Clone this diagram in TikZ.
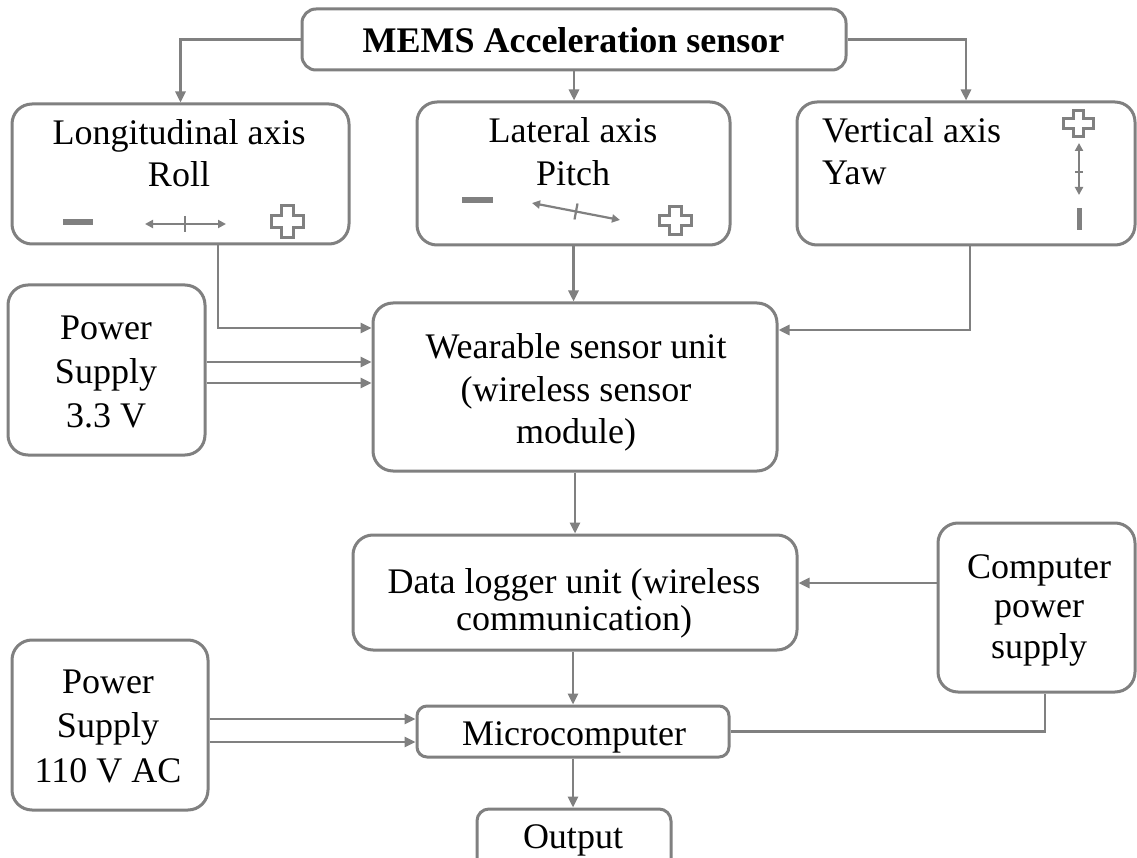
\documentclass[tikz,border=0pt]{standalone}
\usepackage{fontspec}
\setmainfont{Liberation Serif}
\usetikzlibrary{arrows.meta}
\definecolor{lg}{RGB}{128,128,128}
\begin{document}
\begin{tikzpicture}[x=1pt,y=-1pt,
  box/.style={draw=lg,line width=3pt,rounded corners=20pt,inner sep=0pt},
  txt/.style={font=\fontsize{36}{43}\selectfont,inner sep=0pt,anchor=base},
  conn/.style={draw=lg,line width=2.6pt},
  arr/.style={conn,-{Triangle[length=11pt,width=10pt]}},
  icon/.style={draw=lg,line width=2.2pt},
  iarr/.style={icon,{Triangle[length=8pt,width=8pt]}-{Triangle[length=8pt,width=8pt]}},
  plusicon/.style={draw=lg,line width=3pt}
]
\useasboundingbox (0,0) rectangle (1137,858);
\fill[white] (0,0) rectangle (1137,858);

% boxes
\node[box,rounded corners=14pt,minimum width=544pt,minimum height=61pt] (mems) at (574,39.5) {};
\node[box,minimum width=337pt,minimum height=140pt] (lon) at (180.5,174) {};
\node[box,minimum width=313pt,minimum height=143pt] (lat) at (573.5,173.5) {};
\node[box,minimum width=338pt,minimum height=143pt] (ver) at (966,173.5) {};
\node[box,minimum width=197pt,minimum height=170pt] (ps33) at (106.5,370) {};
\node[box,minimum width=404pt,minimum height=168pt] (wear) at (575,387) {};
\node[box,minimum width=444pt,minimum height=115pt] (dlog) at (575,592.5) {};
\node[box,minimum width=197pt,minimum height=169pt] (cps) at (1036.5,607.5) {};
\node[box,rounded corners=10pt,minimum width=312pt,minimum height=51pt] (mc) at (573,731.5) {};
\node[box,minimum width=196pt,minimum height=170pt] (ps110) at (110,725) {};
\node[box,rounded corners=12pt,minimum width=194pt,minimum height=71pt] (out) at (574,844.5) {};

% texts
\node[txt,font=\fontsize{36}{43}\selectfont\bfseries] (memsT) at (573.5,53) {MEMS Acceleration sensor};
\node[txt] (lonT1) at (179,145) {Longitudinal axis};
\node[txt] (lonT2) at (179,187) {Roll};
\node[txt] (latT1) at (573,143) {Lateral axis};
\node[txt] (latT2) at (573,186) {Pitch};
\node[txt,anchor=base west] (verT1) at (822,143) {Vertical axis};
\node[txt,anchor=base west] (verT2) at (822,185) {Yaw};
\node[txt] (psaT1) at (106,340) {Power};
\node[txt] (psaT2) at (106,383) {Supply};
\node[txt] (psaT3) at (106,427) {3.3 V};
\node[txt] (wearT1) at (576,358) {Wearable sensor unit};
\node[txt] (wearT2) at (576,401) {(wireless sensor};
\node[txt] (wearT3) at (576,443) {module)};
\node[txt] (dlogT1) at (574,593) {Data logger unit (wireless};
\node[txt] (dlogT2) at (574,630) {communication)};
\node[txt] (cpsT1) at (1039,578) {Computer};
\node[txt] (cpsT2) at (1039,617) {power};
\node[txt] (cpsT3) at (1039,658) {supply};
\node[txt] (mcT) at (574,745) {Microcomputer};
\node[txt] (psbT1) at (108,693) {Power};
\node[txt] (psbT2) at (108,737) {Supply};
\node[txt] (psbT3) at (108,782) {110 V AC};
\node[txt] (outT) at (573,848) {Output};

% helper coordinates
\coordinate (lonOut) at ([xshift=37.5pt]lon.south);
\coordinate (wearIn1) at ([yshift=59pt]wear.west);
\coordinate (psa1) at ([yshift=8pt]ps33.east);
\coordinate (psa2) at ([yshift=-13pt]ps33.east);
\coordinate (verOut) at ([xshift=4pt]ver.south);
\coordinate (wearIn2) at ([yshift=57pt]wear.east);
\coordinate (cpsOut) at ([yshift=24.5pt]cps.west);
\coordinate (psb1) at ([yshift=6pt]ps110.east);
\coordinate (psb2) at ([yshift=-17pt]ps110.east);
\coordinate (cpsIn) at ([xshift=8.5pt]cps.south);

% connectors
\draw[arr] (mems.west) -| (lon.north);
\draw[arr] (mems.south) -- (mems.south |- lat.north);
\draw[arr] (mems.east) -| (ver.north);
\draw[arr] (lonOut) |- (wearIn1);
\draw[arr] (psa1) -- (psa1 -| wear.west);
\draw[arr] (psa2) -- (psa2 -| wear.west);
\draw[arr] (lat.south) -- (lat.south |- wear.north);
\draw[arr] (verOut) |- (wearIn2);
\draw[arr] (wear.south) -- (wear.south |- dlog.north);
\draw[arr] (cpsOut) -- (cpsOut -| dlog.east);
\draw[arr] (dlog.south -| mc.north) -- (mc.north);
\draw[arr] (psb1) -- (psb1 -| mc.west);
\draw[arr] (psb2) -- (psb2 -| mc.west);
\draw[conn] (mc.east) -| (cpsIn);
\draw[arr] (mc.south) -- (mc.south |- out.north);

% icons: longitudinal
\fill[lg] (63,219.5) rectangle (93,225);
\draw[iarr] (145,224) -- (226,224);
\draw[icon] (185,216) -- (185,232);
\draw[plusicon,shift={(287,222)}] (-6,-16) -- (6,-16) -- (6,-6) -- (16,-6) -- (16,6) -- (6,6) -- (6,16) -- (-6,16) -- (-6,6) -- (-16,6) -- (-16,-6) -- (-6,-6) -- cycle;
% icons: lateral
\fill[lg] (462,197.5) rectangle (493,203);
\draw[iarr] (532,203) -- (620,220);
\draw[icon] (577.5,203.5) -- (574.5,219.5);
\draw[plusicon,shift={(675,221)}] (-6,-14) -- (6,-14) -- (6,-5) -- (16,-5) -- (16,5) -- (6,5) -- (6,14) -- (-6,14) -- (-6,5) -- (-16,5) -- (-16,-5) -- (-6,-5) -- cycle;
% icons: vertical
\draw[plusicon,shift={(1078,124)}] (-5,-13) -- (5,-13) -- (5,-5) -- (15,-5) -- (15,5) -- (5,5) -- (5,13) -- (-5,13) -- (-5,5) -- (-15,5) -- (-15,-5) -- (-5,-5) -- cycle;
\draw[iarr] (1079,143) -- (1079,195);
\draw[icon] (1075,172) -- (1083,172);
\fill[lg] (1076.5,208) rectangle (1082,230);
\end{tikzpicture}
\end{document}
